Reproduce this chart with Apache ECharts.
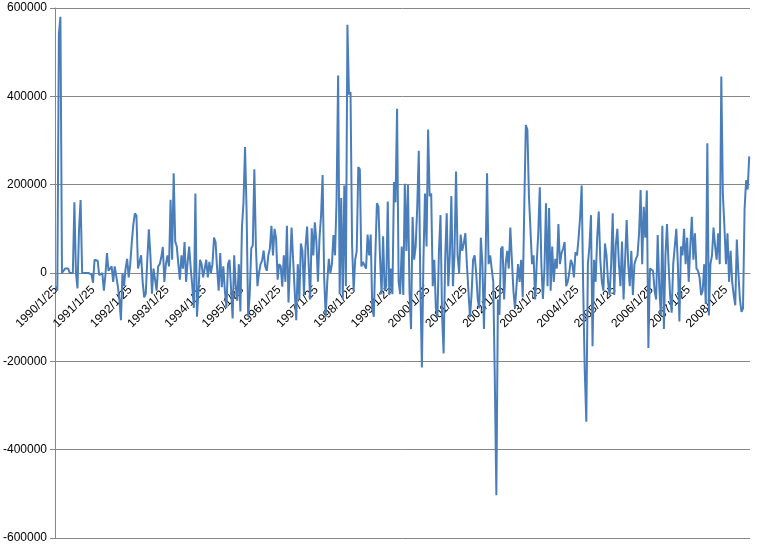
<!DOCTYPE html>
<html>
<head>
<meta charset="utf-8">
<script src="https://cdn.jsdelivr.net/npm/echarts@6/dist/echarts.min.js"></script>
<style>
html,body{margin:0;padding:0;background:#fff;}
#chart{width:764px;height:549px;}
</style>
</head>
<body>
<div id="chart"></div>
<script>
// Year tick labels (one per year; 24 samples per year)
const tickLabels = ['1990/1/25','1991/1/25','1992/1/25','1993/1/25','1994/1/25','1995/1/25','1996/1/25','1997/1/25','1998/1/25','1999/1/25','2000/1/25','2001/1/25','2002/1/25','2003/1/25','2004/1/25','2005/1/25','2006/1/25','2007/1/25','2008/1/25'];
const samplesPerYear = 24;

const v1990 = [-30000,-40000,540000,580000,0,0,10000,10000,10000,0,0,0,160000,0,-35000,100000,165000,0,0,0,0,0,0,-3000];
const v1991 = [-22000,30000,30000,28000,-5000,-8000,0,-40000,-5000,45000,5000,10000,15000,-20000,15000,12000,-30000,-60000,-107000,0,-30000,10000,32000,-10000];
const v1992 = [20000,70000,110000,135000,130000,10000,25000,40000,-20000,-55000,-47000,30000,99000,40000,-47000,10000,-15000,-40000,15000,20000,35000,59000,-20000,20000];
const v1993 = [40000,15000,166000,30000,226000,71000,60000,20000,-15000,40000,10000,70000,-20000,25000,60000,10000,-30000,-79000,180000,-99000,-40000,30000,20000,-10000];
const v1994 = [10000,30000,-10000,25000,0,20000,80000,70000,10000,-40000,45000,-32000,15000,-40000,-79000,20000,30000,28000,-103000,40000,-30000,-63000,20000,-87000];
const v1995 = [103000,160000,285000,140000,-99000,-50000,55000,63000,235000,60000,-30000,0,20000,28000,51000,15000,5000,40000,55000,107000,40000,100000,79000,-15000];
const v1996 = [20000,15000,-31000,40000,-20000,107000,-67000,-69000,103000,30000,-40000,-107000,20000,-60000,67000,50000,-50000,60000,105000,20000,-60000,101000,40000,115000];
const v1997 = [70000,-20000,79000,130000,222000,-10000,-99000,-20000,32000,0,20000,86000,40000,166000,447000,-48000,170000,-60000,198000,-30000,562000,404000,410000,63000];
const v1998 = [-40000,30000,50000,240000,235000,15000,25000,28000,10000,87000,40000,87000,-79000,-99000,40000,158000,150000,36000,-48000,83000,-40000,-30000,162000,-50000];
const v1999 = [10000,-48000,206000,160000,372000,-20000,-48000,60000,-50000,202000,50000,200000,-40000,-127000,127000,30000,60000,150000,277000,-30000,-214000,30000,180000,60000];
const v2000 = [325000,174000,180000,-30000,30000,-79000,-100000,50000,131000,-95000,-182000,30000,135000,-30000,40000,174000,-30000,40000,230000,40000,0,87000,50000,67000];
const v2001 = [90000,20000,-40000,-100000,-50000,30000,40000,0,-60000,-80000,80000,20000,-127000,20000,226000,20000,40000,36000,-20000,-240000,-503000,-60000,-95000,55000];
const v2002 = [60000,-60000,20000,50000,10000,103000,30000,-40000,-80000,-30000,20000,-20000,30000,-55000,150000,335000,325000,174000,170000,20000,40000,-60000,20000,90000];
const v2003 = [194000,20000,-59000,10000,158000,-30000,147000,-40000,60000,-20000,32000,10000,111000,20000,45000,55000,70000,-30000,-20000,0,30000,20000,-10000,47000];
const v2004 = [40000,79000,127000,198000,-40000,-224000,-337000,20000,60000,131000,-166000,30000,-20000,80000,139000,30000,-20000,-40000,67000,40000,-20000,-50000,20000,135000];
const v2005 = [-50000,63000,100000,20000,-30000,71000,-60000,30000,120000,20000,-30000,50000,-50000,20000,32000,40000,90000,188000,20000,150000,80000,187000,-170000,10000];
const v2006 = [10000,5000,-40000,-60000,86000,-30000,-95000,107000,-127000,40000,111000,20000,-50000,-90000,20000,60000,100000,20000,-110000,60000,40000,100000,20000,80000];
const v2007 = [-20000,60000,127000,30000,90000,10000,5000,-10000,-50000,-40000,20000,-70000,294000,-96000,20000,40000,103000,60000,30000,90000,20000,445000,180000,106000];
const v2008 = [20000,90000,-20000,50000,-20000,-50000,-73000,76000,0,-60000,-88000,-80000,144000,210000,189000,264000];

const values = [].concat(v1990,v1991,v1992,v1993,v1994,v1995,v1996,v1997,v1998,v1999,v2000,v2001,v2002,v2003,v2004,v2005,v2006,v2007,v2008);
const categories = values.map((_, i) => (i % samplesPerYear === 0) ? tickLabels[i / samplesPerYear] : tickLabels[Math.floor(i / samplesPerYear)] + '#' + (i % samplesPerYear));

const gridTop = 8, gridBottom = 11, chartH = 549;
const plotH = chartH - gridTop - gridBottom;
const yMin = -600000, yMax = 600000;
// distance (px) from the bottom of the plot up to the zero line, so the category axis sits on zero
const zeroOffset = plotH * (0 - yMin) / (yMax - yMin);

const chart = echarts.init(document.getElementById('chart'), null, {renderer: 'canvas'});
chart.setOption({
  animation: false,
  backgroundColor: '#ffffff',
  grid: {left: 55, right: 14, top: gridTop, bottom: gridBottom, containLabel: false, outerBoundsMode: 'none'},
  xAxis: {
    type: 'category',
    data: categories,
    boundaryGap: true,
    offset: -zeroOffset,
    axisLine: {onZero: false, lineStyle: {color: '#868686', width: 1}},
    axisTick: {show: false},
    axisLabel: {
      interval: samplesPerYear - 1,
      rotate: 45,
      margin: 15,
      hideOverlap: false,
      color: '#000',
      fontFamily: 'Liberation Sans',
      fontSize: 12
    },
    splitLine: {show: false}
  },
  yAxis: {
    type: 'value',
    min: yMin,
    max: yMax,
    interval: 200000,
    axisLine: {show: true, lineStyle: {color: '#868686', width: 1}},
    axisTick: {show: true, length: 5, lineStyle: {color: '#868686'}},
    axisLabel: {color: '#000', fontFamily: 'Liberation Sans', fontSize: 12, margin: 8, formatter: v => String(v)},
    splitLine: {show: true, lineStyle: {color: '#868686', width: 1}}
  },
  series: [{
    type: 'line',
    data: values,
    symbol: 'none',
    lineStyle: {color: '#4a7ebb', width: 2},
    itemStyle: {color: '#4a7ebb'}
  }]
});
</script>
</body>
</html>
